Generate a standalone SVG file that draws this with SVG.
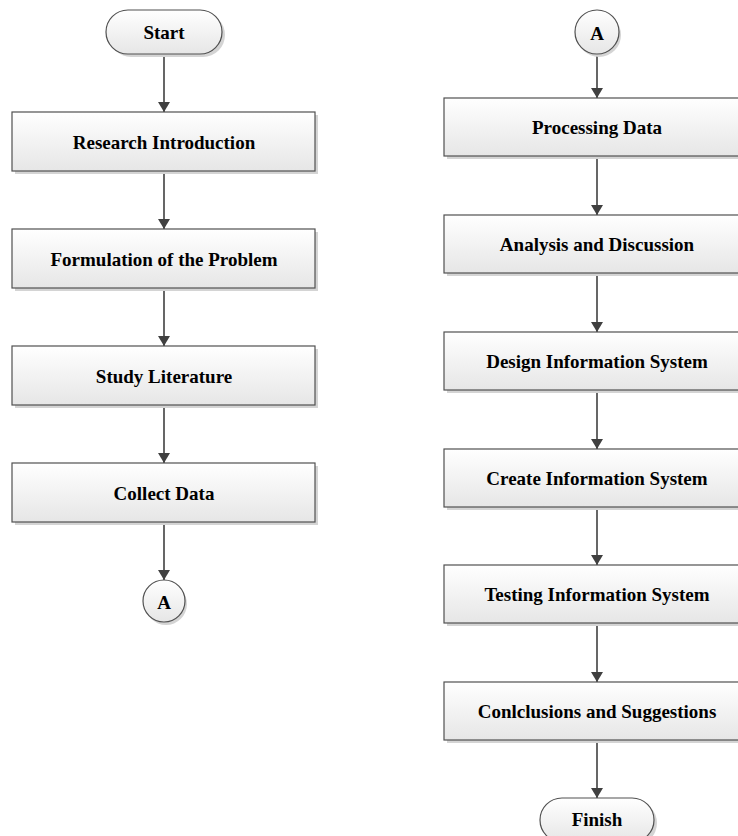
<svg xmlns="http://www.w3.org/2000/svg" width="738" height="836" viewBox="0 0 738 836">
<defs>
<linearGradient id="g" x1="0" y1="0" x2="0" y2="1">
<stop offset="0" stop-color="#ffffff"/>
<stop offset="1" stop-color="#e6e6e6"/>
</linearGradient>
<marker id="arr" viewBox="0 0 10 12" refX="10" refY="6" markerWidth="10" markerHeight="12" markerUnits="userSpaceOnUse" orient="auto">
<path d="M0,0 L10,6 L0,12 Z" fill="#404040"/>
</marker>
</defs>
<style>
.sh{fill:#d4d4d4}
.bx{fill:url(#g);stroke:#505050;stroke-width:1.2}
.t{font-family:"Liberation Serif","Times New Roman",serif;font-weight:bold;font-size:19px;fill:#000;text-anchor:middle;dominant-baseline:central}
.c{stroke:#404040;stroke-width:1.6;fill:none;marker-end:url(#arr)}
</style>
<rect width="738" height="836" fill="#fff"/>
<g id="connectors">
<line class="c" x1="164" y1="54" x2="164" y2="112"/>
<line class="c" x1="164" y1="171" x2="164" y2="229"/>
<line class="c" x1="164" y1="288" x2="164" y2="346"/>
<line class="c" x1="164" y1="405" x2="164" y2="463"/>
<line class="c" x1="164" y1="522" x2="164" y2="580"/>
<line class="c" x1="597" y1="54" x2="597" y2="98"/>
<line class="c" x1="597" y1="156" x2="597" y2="215"/>
<line class="c" x1="597" y1="273" x2="597" y2="332"/>
<line class="c" x1="597" y1="390" x2="597" y2="449"/>
<line class="c" x1="597" y1="507" x2="597" y2="565"/>
<line class="c" x1="597" y1="623" x2="597" y2="682"/>
<line class="c" x1="597" y1="740" x2="597" y2="798"/>
</g>
<g id="start">
<rect class="sh" x="109" y="13" width="116" height="44" rx="22"/>
<rect class="bx" x="106" y="10" width="116" height="44" rx="22"/>
<text class="t" x="164" y="32">Start</text>
</g>
<g id="research">
<rect class="sh" x="15" y="115" width="303" height="59"/>
<rect class="bx" x="12" y="112" width="303" height="59"/>
<text class="t" x="164" y="142">Research Introduction</text>
</g>
<g id="formulation">
<rect class="sh" x="15" y="232" width="303" height="59"/>
<rect class="bx" x="12" y="229" width="303" height="59"/>
<text class="t" x="164" y="259">Formulation of the Problem</text>
</g>
<g id="study">
<rect class="sh" x="15" y="349" width="303" height="59"/>
<rect class="bx" x="12" y="346" width="303" height="59"/>
<text class="t" x="164" y="376">Study Literature</text>
</g>
<g id="collect">
<rect class="sh" x="15" y="466" width="303" height="59"/>
<rect class="bx" x="12" y="463" width="303" height="59"/>
<text class="t" x="164" y="493">Collect Data</text>
</g>
<g id="connA1">
<circle class="sh" cx="166" cy="604" r="21"/>
<circle class="bx" cx="164" cy="601" r="21"/>
<text class="t" x="164" y="602">A</text>
</g>
<g id="connA2">
<circle class="sh" cx="599" cy="35" r="22"/>
<circle class="bx" cx="597" cy="32" r="22"/>
<text class="t" x="597" y="33">A</text>
</g>
<g id="processing">
<rect class="sh" x="447" y="101" width="303" height="58"/>
<rect class="bx" x="444" y="98" width="303" height="58"/>
<text class="t" x="597" y="127">Processing Data</text>
</g>
<g id="analysis">
<rect class="sh" x="447" y="218" width="303" height="58"/>
<rect class="bx" x="444" y="215" width="303" height="58"/>
<text class="t" x="597" y="244">Analysis and Discussion</text>
</g>
<g id="design">
<rect class="sh" x="447" y="335" width="303" height="58"/>
<rect class="bx" x="444" y="332" width="303" height="58"/>
<text class="t" x="597" y="361">Design Information System</text>
</g>
<g id="create">
<rect class="sh" x="447" y="452" width="303" height="58"/>
<rect class="bx" x="444" y="449" width="303" height="58"/>
<text class="t" x="597" y="478">Create Information System</text>
</g>
<g id="testing">
<rect class="sh" x="447" y="568" width="303" height="58"/>
<rect class="bx" x="444" y="565" width="303" height="58"/>
<text class="t" x="597" y="594">Testing Information System</text>
</g>
<g id="conclusions">
<rect class="sh" x="447" y="685" width="303" height="58"/>
<rect class="bx" x="444" y="682" width="303" height="58"/>
<text class="t" x="597" y="711">Conlclusions and Suggestions</text>
</g>
<g id="finish">
<rect class="sh" x="543" y="801" width="114" height="44" rx="22"/>
<rect class="bx" x="540" y="798" width="114" height="44" rx="22"/>
<text class="t" x="597" y="819">Finish</text>
</g>
</svg>
